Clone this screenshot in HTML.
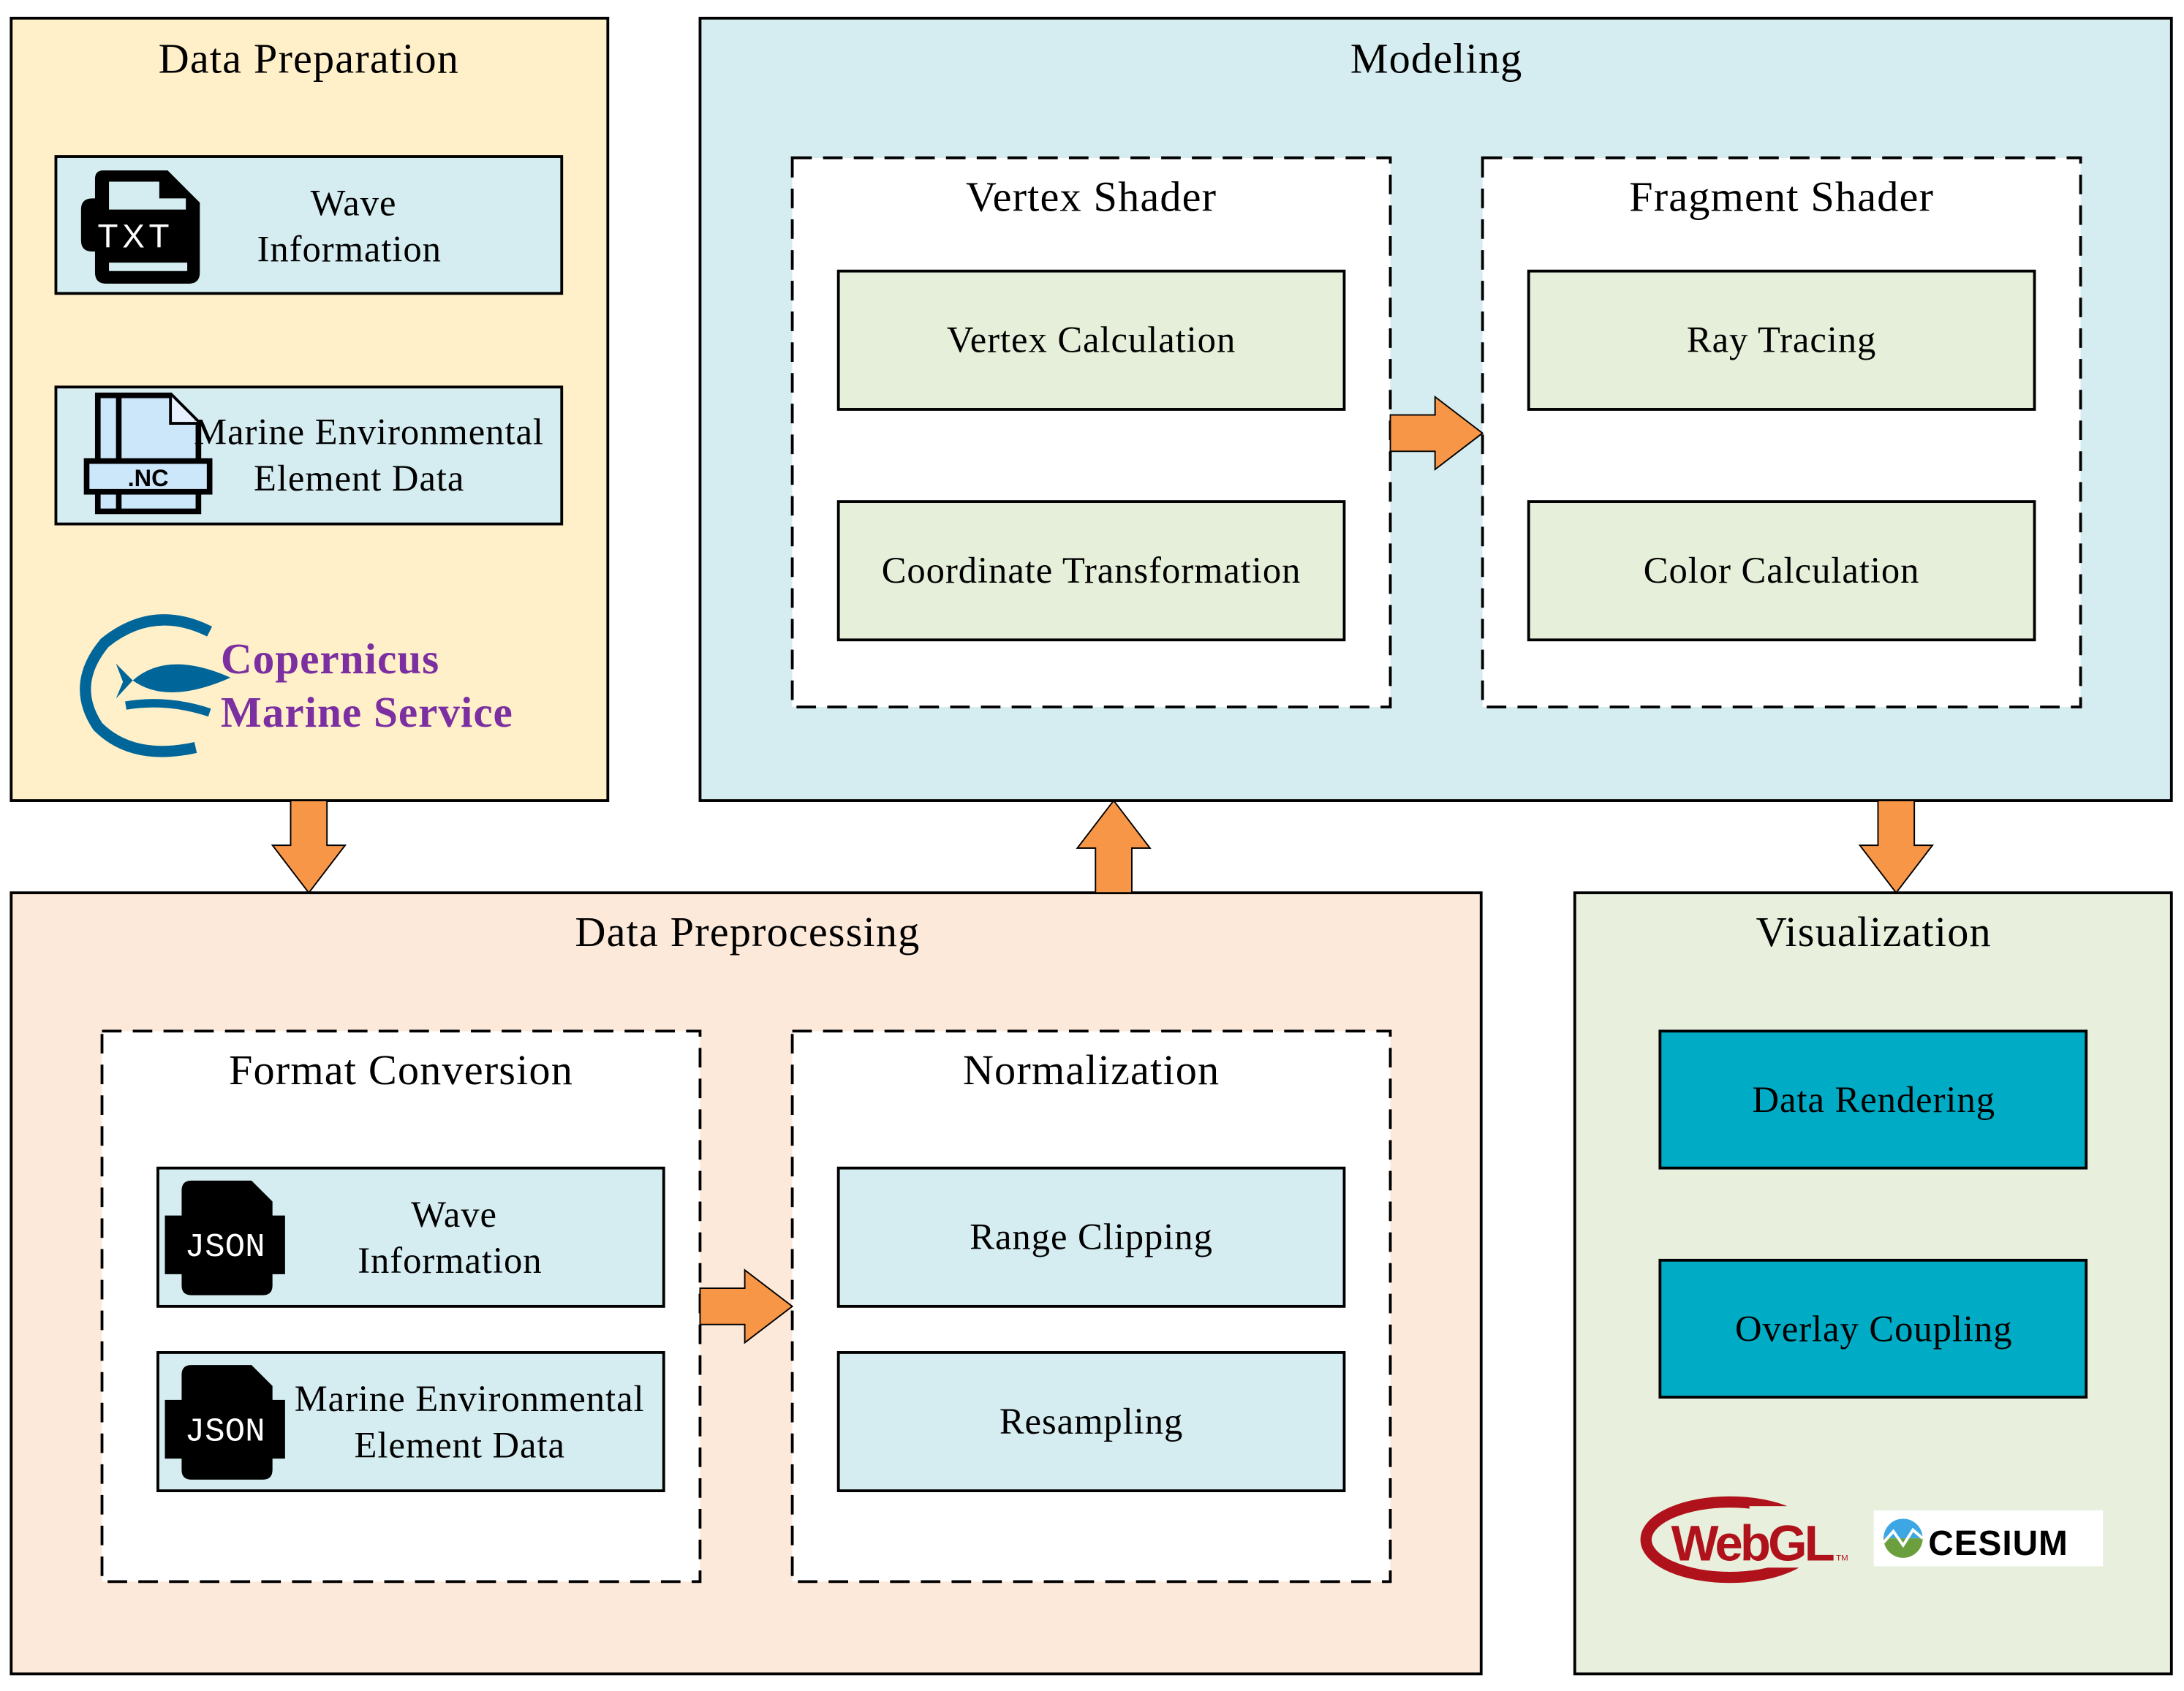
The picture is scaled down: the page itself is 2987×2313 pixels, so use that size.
<!DOCTYPE html>
<html><head><meta charset="utf-8">
<style>
html,body{margin:0;padding:0;background:#fff;}
svg{display:block;}
.t{font-family:"Liberation Serif",serif;fill:#000;font-size:30.5px;letter-spacing:0.6px;}
.b{font-family:"Liberation Serif",serif;fill:#000;font-size:26.5px;letter-spacing:0.5px;}
</style></head>
<body>
<svg width="2987" height="2313" viewBox="0 0 1563 1210.3" preserveAspectRatio="none" xmlns="http://www.w3.org/2000/svg">
<defs>
<g id="arrR"><polygon points="0,-13 32,-13 32,-26 66,0 32,26 32,13 0,13" fill="#f79646" stroke="#000" stroke-width="1"/></g>
<g id="json">
<path d="M132,845 L180,845 L195,860 L195,870 L204,870 L204,912 L195,912 L195,920 Q195,927 188,927 L137,927 Q130,927 130,920 L130,912 L118,912 L118,870 L130,870 L130,852 Q130,845 137,845 Z" fill="#000"/>
<text x="161" y="899" text-anchor="middle" style="font-family:'Liberation Mono',monospace;font-size:24px;fill:#fff;">JSON</text>
</g>
</defs>
<!-- Data Preparation -->
<rect x="8" y="13" width="427" height="560" fill="#fff0c9" stroke="#000" stroke-width="2"/>
<text class="t" x="221" y="52" text-anchor="middle">Data Preparation</text>
<rect x="40" y="112" width="362" height="98" fill="#d5edf1" stroke="#000" stroke-width="2"/>
<path d="M74,122 L120,122 L143,145 L143,195 Q143,203 135,203 L76,203 Q68,203 68,195 L68,180 L66,180 Q58,180 58,172 L58,150 Q58,142 66,142 L68,142 L68,128 Q68,122 74,122 Z" fill="#000"/>
<path d="M78,130 L114,130 L114,142 L133,142 L133,150 L78,150 Z" fill="#d5edf1"/>
<rect x="78" y="188" width="56" height="6" fill="#d5edf1"/>
<text x="97" y="177" text-anchor="middle" style="font-family:'Liberation Sans',sans-serif;font-size:24px;fill:#fff;letter-spacing:3px;">TXT</text>
<text class="b" x="253" y="154" text-anchor="middle">Wave</text>
<text class="b" x="250" y="187" text-anchor="middle">Information</text>
<rect x="40" y="277" width="362" height="98" fill="#d5edf1" stroke="#000" stroke-width="2"/>
<path d="M70,283 L122,283 L142,303 L142,366 L70,366 Z" fill="#cce6fa" stroke="#000" stroke-width="4"/>
<path d="M122,283 L122,303 L142,303" fill="#e8f0ff" stroke="#000" stroke-width="2"/>
<line x1="85" y1="283" x2="85" y2="366" stroke="#000" stroke-width="4"/>
<rect x="62" y="330" width="88" height="22" fill="#cce6fa" stroke="#000" stroke-width="4"/>
<text x="106" y="348" text-anchor="middle" style="font-family:'Liberation Sans',sans-serif;font-size:17px;font-weight:bold;">.NC</text>
<text class="b" x="264" y="318" text-anchor="middle">Marine Environmental</text>
<text class="b" x="257" y="351" text-anchor="middle">Element Data</text>
<path d="M150,452 Q110,432 75,460 Q50,490 70,520 Q95,545 140,535" fill="none" stroke="#006699" stroke-width="8"/>
<path d="M95,487 Q120,465 165,485 Q120,505 95,487 Z M95,487 L83,475 L88,488 L83,500 Z" fill="#006699"/>
<path d="M90,505 Q120,500 150,510" fill="none" stroke="#006699" stroke-width="6"/>
<text x="158" y="482" style="font-family:'Liberation Serif',serif;font-size:31px;font-weight:bold;fill:#7b2fa0;letter-spacing:0.5px;">Copernicus</text>
<text x="158" y="520" style="font-family:'Liberation Serif',serif;font-size:31px;font-weight:bold;fill:#7b2fa0;letter-spacing:0.5px;">Marine Service</text>

<!-- Modeling -->
<rect x="501" y="13" width="1053" height="560" fill="#d5ecf0" stroke="#000" stroke-width="2"/>
<text class="t" x="1028" y="52" text-anchor="middle">Modeling</text>
<rect x="567" y="113" width="428" height="393" fill="#fff" stroke="#000" stroke-width="2" stroke-dasharray="14,8"/>
<text class="t" x="781" y="151" text-anchor="middle">Vertex Shader</text>
<rect x="1061" y="113" width="428" height="393" fill="#fff" stroke="#000" stroke-width="2" stroke-dasharray="14,8"/>
<text class="t" x="1275" y="151" text-anchor="middle">Fragment Shader</text>
<rect x="600" y="194" width="362" height="99" fill="#e6efd9" stroke="#000" stroke-width="2"/>
<text class="b" x="781" y="252" text-anchor="middle">Vertex Calculation</text>
<rect x="600" y="359" width="362" height="99" fill="#e6efd9" stroke="#000" stroke-width="2"/>
<text class="b" x="781" y="417" text-anchor="middle">Coordinate Transformation</text>
<rect x="1094" y="194" width="362" height="99" fill="#e6efd9" stroke="#000" stroke-width="2"/>
<text class="b" x="1275" y="252" text-anchor="middle">Ray Tracing</text>
<rect x="1094" y="359" width="362" height="99" fill="#e6efd9" stroke="#000" stroke-width="2"/>
<text class="b" x="1275" y="417" text-anchor="middle">Color Calculation</text>
<use href="#arrR" x="995" y="310"/>

<!-- Data Preprocessing -->
<rect x="8" y="639" width="1052" height="559" fill="#fde9da" stroke="#000" stroke-width="2"/>
<text class="t" x="535" y="677" text-anchor="middle">Data Preprocessing</text>
<rect x="73" y="738" width="428" height="394" fill="#fff" stroke="#000" stroke-width="2" stroke-dasharray="14,8"/>
<text class="t" x="287" y="776" text-anchor="middle">Format Conversion</text>
<rect x="567" y="738" width="428" height="394" fill="#fff" stroke="#000" stroke-width="2" stroke-dasharray="14,8"/>
<text class="t" x="781" y="776" text-anchor="middle">Normalization</text>
<rect x="113" y="836" width="362" height="99" fill="#d5edf1" stroke="#000" stroke-width="2"/>
<rect x="113" y="968" width="362" height="99" fill="#d5edf1" stroke="#000" stroke-width="2"/>
<use href="#json"/>
<use href="#json" y="132"/>
<text class="b" x="325" y="878" text-anchor="middle">Wave</text>
<text class="b" x="322" y="911" text-anchor="middle">Information</text>
<text class="b" x="336" y="1010" text-anchor="middle">Marine Environmental</text>
<text class="b" x="329" y="1043" text-anchor="middle">Element Data</text>
<rect x="600" y="836" width="362" height="99" fill="#d5edf1" stroke="#000" stroke-width="2"/>
<text class="b" x="781" y="894" text-anchor="middle">Range Clipping</text>
<rect x="600" y="968" width="362" height="99" fill="#d5edf1" stroke="#000" stroke-width="2"/>
<text class="b" x="781" y="1026" text-anchor="middle">Resampling</text>
<use href="#arrR" x="501" y="935"/>

<!-- Visualization -->
<rect x="1127" y="639" width="427" height="559" fill="#e8f0dd" stroke="#000" stroke-width="2"/>
<text class="t" x="1341" y="677" text-anchor="middle">Visualization</text>
<rect x="1188" y="738" width="305" height="98" fill="#00abc5" stroke="#000" stroke-width="2"/>
<text class="b" x="1341" y="796" text-anchor="middle">Data Rendering</text>
<rect x="1188" y="902" width="305" height="98" fill="#00abc5" stroke="#000" stroke-width="2"/>
<text class="b" x="1341" y="960" text-anchor="middle">Overlay Coupling</text>
<ellipse cx="1238" cy="1102" rx="60" ry="27" fill="none" stroke="#b0121c" stroke-width="8"/>
<rect x="1252" y="1078" width="70" height="44" fill="#e8f0dd"/>
<text x="1196" y="1117" style="font-family:'Liberation Sans',sans-serif;font-size:36px;font-weight:bold;fill:#b0121c;letter-spacing:-2px;">WebGL</text>
<text x="1314" y="1117" style="font-family:'Liberation Sans',sans-serif;font-size:6px;fill:#b0121c;">TM</text>
<rect x="1341" y="1081" width="164" height="40" fill="#fff"/>
<path d="M1348,1101 A14,14 0 0 1 1376,1101 Z" fill="#3da7e4"/>
<path d="M1348,1101 A14,14 0 0 0 1376,1101 Z" fill="#6b9f3e"/>
<path d="M1348,1104 L1355,1096 L1362,1106 L1369,1095 L1376,1101" fill="none" stroke="#fff" stroke-width="2"/>
<text x="1380" y="1113" style="font-family:'Liberation Sans',sans-serif;font-size:25px;font-weight:bold;letter-spacing:0.5px;">CESIUM</text>

<polygon points="208,573 234,573 234,605 247,605 221,639 195,605 208,605" fill="#f79646" stroke="#000" stroke-width="1"/>
<polygon points="784,639 810,639 810,607 823,607 797,573 771,607 784,607" fill="#f79646" stroke="#000" stroke-width="1"/>
<polygon points="1344,573 1370,573 1370,605 1383,605 1357,639 1331,605 1344,605" fill="#f79646" stroke="#000" stroke-width="1"/>
</svg>
</body></html>
